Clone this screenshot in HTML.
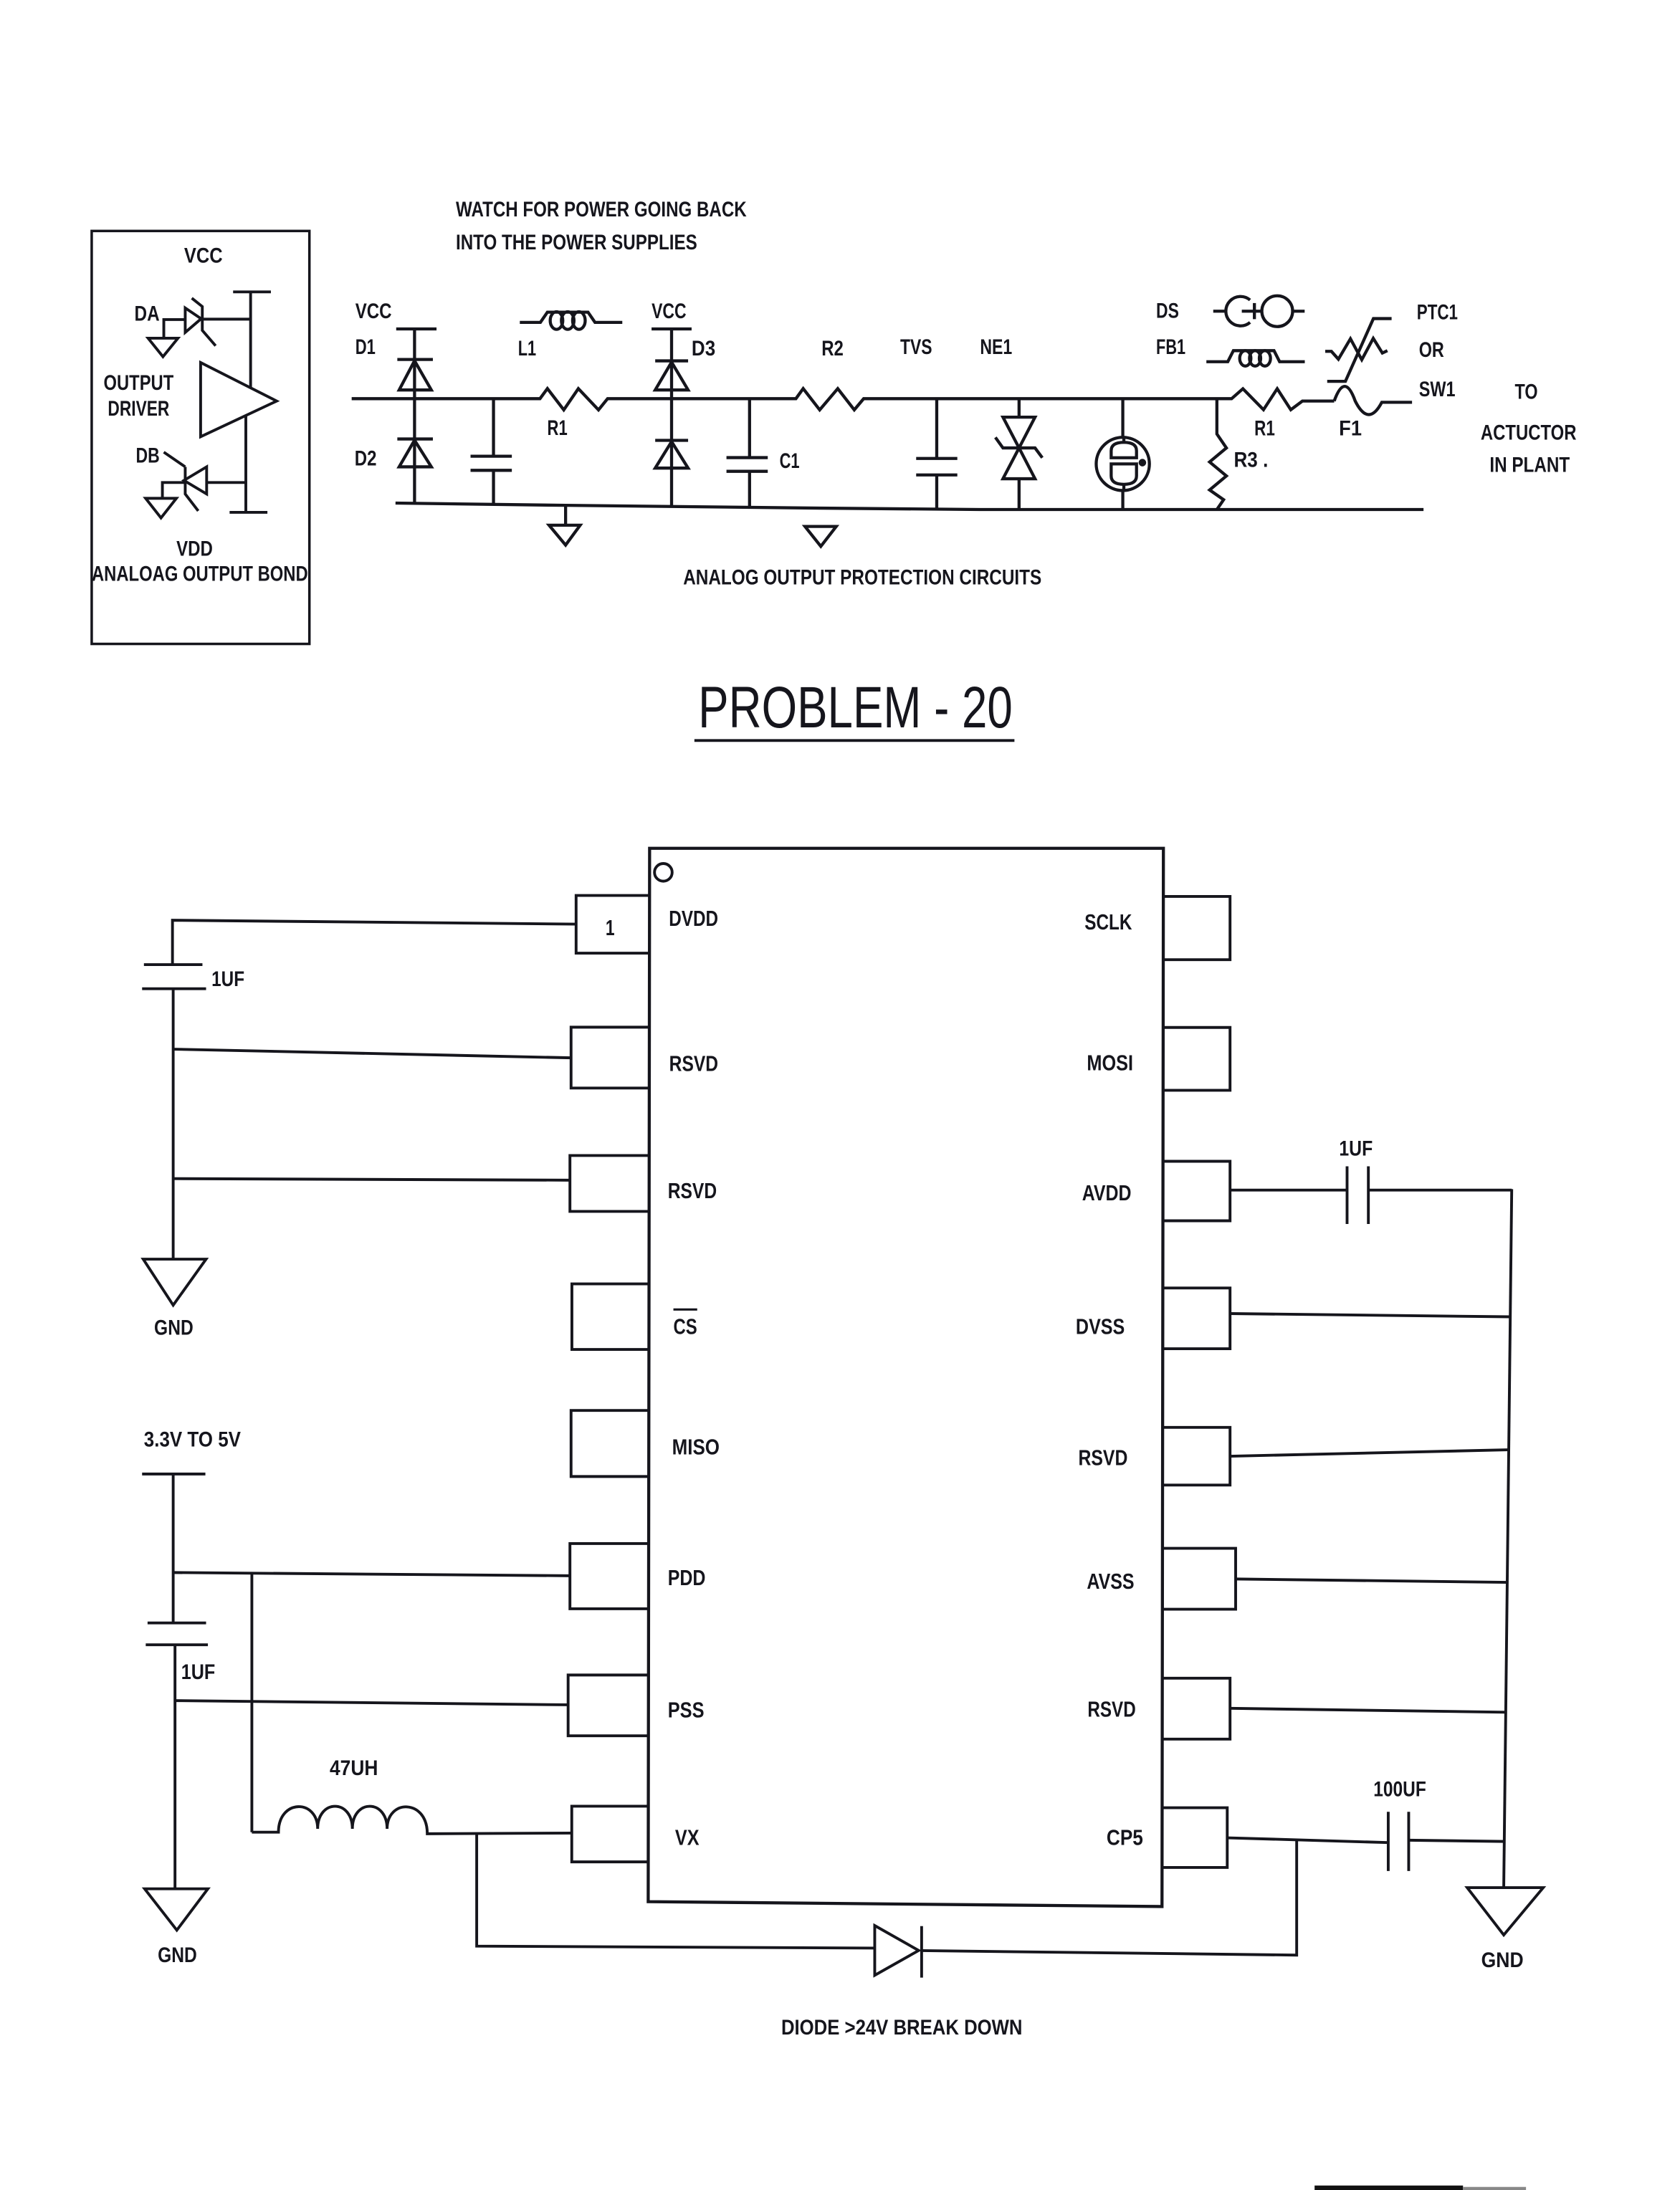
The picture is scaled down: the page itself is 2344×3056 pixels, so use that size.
<!DOCTYPE html>
<html>
<head>
<meta charset="utf-8">
<style>
  html,body{margin:0;padding:0;background:#ffffff;}
  svg{display:block;}
  text{font-family:"Liberation Sans Narrow","Liberation Sans",Arial,sans-serif;fill:#15151c;font-size:15px;font-weight:bold;}
  text.p{font-size:15.5px;}
</style>
</head>
<body>
<svg width="2344" height="3056" viewBox="0 0 1200 1564.5" preserveAspectRatio="none" xmlns="http://www.w3.org/2000/svg">
<rect x="0" y="0" width="1200" height="1564.5" fill="#ffffff"/>
<g fill="none" stroke="#15151c" stroke-width="2" stroke-linejoin="miter" stroke-linecap="butt">

<!-- ============ TOP-LEFT BOX ============ -->
<rect x="65.5" y="165" width="155.5" height="295" stroke-width="1.8"/>
<line x1="166.5" y1="208.5" x2="193.5" y2="208.5"/>
<line x1="179" y1="208.5" x2="179" y2="277"/>
<line x1="175.6" y1="296.8" x2="175.6" y2="366"/>
<line x1="164" y1="366" x2="191" y2="366"/>
<polygon points="143.3,259 197.6,286.5 143.3,312"/>
<!-- DA -->
<polyline points="117,241.6 117,228.3 132.3,228.3"/>
<polygon points="105.8,241.6 127.1,241.6 116.4,254.8"/>
<polygon points="132.3,220 143.7,227.7 132.3,237.5"/>
<polyline points="137,213 144.5,219 144.5,236 154,247"/>
<line x1="144.5" y1="228" x2="179" y2="228"/>
<!-- DB -->
<line x1="117" y1="323" x2="132.3" y2="333.5"/>
<polyline points="132.3,333.5 132.3,352.9 141.6,365"/>
<polygon points="147.6,333.5 147.6,352.9 131.4,343.2"/>
<line x1="147.6" y1="344.7" x2="175.6" y2="344.7"/>
<polyline points="131.4,344.7 116,344.7 116,356"/>
<polygon points="104,356 126,356 115,370"/>

<!-- ============ TOP CIRCUIT ============ -->
<g stroke-width="2.2">
<polyline points="251.2,284.8 385.7,284.8 391,277.6 402.7,292.8 413.1,277.6 427.5,292.8 434,284.8 568.5,284.8 573.7,277.6 585.5,292.8 598.4,277.6 610.2,292.8 616.9,284.8 879.7,284.8 887.8,277.7 902.5,292.7 912.3,277.7 922,292.7 930.3,286.5 953,286.5"/>
<path d="M953,286.5 Q960.5,265.5 968,286.5 Q977.5,305.4 987,287.4 L1008.6,287.4"/>
<polyline points="282.5,359.4 404,361 586,363 700,364 1016.8,364"/>

<!-- D1 / D2 -->
<line x1="283" y1="235" x2="311.8" y2="235"/>
<line x1="296.1" y1="235" x2="296.1" y2="359.6"/>
<line x1="283.8" y1="256.8" x2="309.2" y2="256.8"/>
<polygon points="296.1,257.7 308.1,278.6 285.1,278.6"/>
<line x1="283.8" y1="313.6" x2="309.2" y2="313.6"/>
<polygon points="296.1,314.5 308.1,333.5 285.1,333.5"/>
<!-- cap -->
<line x1="352.5" y1="284.8" x2="352.5" y2="325.9"/>
<line x1="336.1" y1="325.9" x2="365.6" y2="325.9"/>
<line x1="336.1" y1="336" x2="365.6" y2="336"/>
<line x1="352.5" y1="336" x2="352.5" y2="361"/>
<!-- ground 1 -->
<line x1="404" y1="361" x2="404" y2="375.2"/>
<polygon points="392.2,375.2 414.4,375.2 404,389.4"/>
<!-- L1 -->
<path d="M371.3,230.3 H386 L391,223 H420 L425,230.3 H444.5"/>
<ellipse cx="397.5" cy="229" rx="4.5" ry="6.3"/>
<ellipse cx="405.5" cy="229" rx="4.5" ry="6.3"/>
<ellipse cx="413.5" cy="229" rx="4.5" ry="6.3"/>
<!-- D3 column -->
<line x1="465.4" y1="235" x2="494" y2="235"/>
<line x1="479.7" y1="235" x2="479.7" y2="361.3"/>
<line x1="468" y1="257.8" x2="491.5" y2="257.8"/>
<polygon points="479.7,258.7 491.5,278.6 468,278.6"/>
<line x1="468" y1="314.6" x2="491.5" y2="314.6"/>
<polygon points="479.7,315.5 491.5,334.4 468,334.4"/>
<!-- C1 -->
<line x1="535.4" y1="284.8" x2="535.4" y2="326.9"/>
<line x1="518.9" y1="326.9" x2="548.4" y2="326.9"/>
<line x1="518.9" y1="336.7" x2="548.4" y2="336.7"/>
<line x1="535.4" y1="336.7" x2="535.4" y2="362"/>
<!-- ground 2 -->
<polygon points="575,376.1 597.3,376.1 586.3,390.3"/>
<!-- TVS cap -->
<line x1="669.1" y1="284.8" x2="669.1" y2="327.5"/>
<line x1="654.4" y1="327.5" x2="683.8" y2="327.5"/>
<line x1="654.4" y1="339.3" x2="683.8" y2="339.3"/>
<line x1="669.1" y1="339.3" x2="669.1" y2="364"/>
<!-- NE1 bidirectional -->
<line x1="727.9" y1="284.8" x2="727.9" y2="298"/>
<polygon points="716.4,298 739.3,298 727.9,320"/>
<polygon points="716.4,342 739.3,342 727.9,320"/>
<polyline points="711,312.5 716.4,320 739.3,320 744.5,327"/>
<line x1="727.9" y1="342" x2="727.9" y2="364"/>
<!-- gas tube -->
<line x1="802" y1="284.8" x2="802" y2="312.4"/>
<circle cx="802" cy="331.4" r="19"/>
<line x1="802.75" y1="312.4" x2="802.75" y2="316"/>
<path d="M793.7,327 L793.7,322 Q793.7,316 802.75,316 Q811.8,316 811.8,322 L811.8,327 Z"/>
<path d="M793.7,331.4 L811.8,331.4 L811.8,340 Q811.8,346 802.75,346 Q793.7,346 793.7,340 Z"/>
<line x1="802.75" y1="346" x2="802.75" y2="350.4"/>
<line x1="802" y1="350.4" x2="802" y2="364"/>
<circle cx="816" cy="330.5" r="1.6" fill="#15151c"/>
<!-- R3 -->
<polyline points="869.2,284.8 869.2,310 876,320 864,330 876,340 864,350 874,357 869.2,364"/>
<!-- DS symbol -->
<line x1="866.6" y1="222.3" x2="875.7" y2="222.3"/>
<path d="M892.9,214.3 A10.5,10.5 0 1 0 892.9,230.3"/>
<line x1="887" y1="222.3" x2="901" y2="222.3"/>
<line x1="896" y1="216.5" x2="896" y2="228"/>
<circle cx="912.3" cy="222.3" r="11"/>
<line x1="923.3" y1="222.3" x2="931.9" y2="222.3"/>
<!-- FB1 -->
<path d="M861.7,258.4 H877 L881,250.5 H910 L914,258.4 H932"/>
<ellipse cx="889.5" cy="256" rx="4" ry="5.5"/>
<ellipse cx="896.5" cy="256" rx="4" ry="5.5"/>
<ellipse cx="903.5" cy="256" rx="4" ry="5.5"/>
<!-- PTC1 -->
<polyline points="946.6,251 951,251 956,256.6 964.6,242 972.7,257 980.9,241.7 987.4,252.2 991,250.5"/>
<polyline points="948,272.4 961,272.4 981,227.6 994,227.6"/>
</g>

<!-- ============ TITLE UNDERLINE ============ -->
<line x1="496" y1="529" x2="724.6" y2="529" stroke-width="2"/>

<!-- ============ CHIP ============ -->
<path d="M464,606 L831,606 L830,1362 L463,1358.5 Z" stroke-width="2.2"/>
<circle cx="473.8" cy="623.2" r="6.3"/>
<!-- left pins -->
<polyline points="464,639.7 411.5,639.7 411.5,680.9 464,680.9"/>
<polyline points="464,733.8 407.9,733.8 407.9,777.3 464,777.3"/>
<polyline points="464,825.5 407.1,825.5 407.1,865.4 464,865.4"/>
<polyline points="464,917.2 408.5,917.2 408.5,964 464,964"/>
<polyline points="464,1007.6 407.9,1007.6 407.9,1054.8 464,1054.8"/>
<polyline points="464,1102.7 407.1,1102.7 407.1,1149.3 464,1149.3"/>
<polyline points="464,1196.6 405.8,1196.6 405.8,1240 464,1240"/>
<polyline points="464,1290.3 408.4,1290.3 408.4,1330.1 464,1330.1"/>
<!-- right pins -->
<polyline points="831,640.4 878.6,640.4 878.6,685.6 831,685.6"/>
<polyline points="831,734 878.6,734 878.6,778.9 831,778.9"/>
<polyline points="831,829.6 878.6,829.6 878.6,872.1 831,872.1"/>
<polyline points="831,920.1 878.6,920.1 878.6,963.5 831,963.5"/>
<polyline points="831,1019.7 878.6,1019.7 878.6,1060.9 831,1060.9"/>
<polyline points="831,1106.1 882.6,1106.1 882.6,1149.6 831,1149.6"/>
<polyline points="831,1198.9 878.6,1198.9 878.6,1242.4 831,1242.4"/>
<polyline points="831,1291.4 876.6,1291.4 876.6,1334.1 831,1334.1"/>
<!-- CS overbar -->
<line x1="481" y1="935.5" x2="498" y2="935.5" stroke-width="1.6"/>

<!-- ============ LEFT WIRING ============ -->
<polyline points="411.5,660.2 123.2,657.4 123.2,689.1"/>
<line x1="102.8" y1="689.1" x2="144.6" y2="689.1"/>
<line x1="101.5" y1="706.3" x2="147.2" y2="706.3"/>
<line x1="123.7" y1="706.3" x2="123.7" y2="899.5"/>
<line x1="123.7" y1="749.5" x2="407.9" y2="755.7"/>
<line x1="123.7" y1="842" x2="407.1" y2="843.1"/>
<polygon points="102.3,899.5 147.2,899.5 123.7,932.4"/>

<line x1="101.5" y1="1053" x2="146.7" y2="1053"/>
<line x1="123.7" y1="1053" x2="123.7" y2="1159.4"/>
<line x1="105.4" y1="1159.4" x2="147.2" y2="1159.4"/>
<line x1="104.1" y1="1175" x2="148.5" y2="1175"/>
<line x1="125" y1="1175" x2="125" y2="1349.3"/>
<line x1="123.7" y1="1123.4" x2="407.1" y2="1125.7"/>
<line x1="179.9" y1="1123.9" x2="179.9" y2="1308.9"/>
<line x1="125" y1="1214.9" x2="405.8" y2="1217.9"/>
<path d="M179.9,1308.9 H198.9 C198.9,1285 226.9,1285 226.9,1306.5 C226.9,1285 251.7,1285 251.7,1306.5 C251.7,1285 276.5,1285 276.5,1306.5 C276.5,1285 305.2,1285 305.2,1310 L408.4,1309.5"/>
<polygon points="103.3,1349.3 148.5,1349.3 126.3,1378.9"/>

<!-- VX / diode loop -->
<polyline points="340.5,1310 340.5,1390.3 624.8,1391.7"/>
<polygon points="624.8,1375.6 624.8,1411.1 656.2,1393.4"/>
<line x1="658.3" y1="1376" x2="658.3" y2="1412.8"/>
<polyline points="658.3,1393.5 926.2,1396.7 926.2,1314"/>

<!-- ============ RIGHT WIRING ============ -->
<line x1="878.6" y1="850.2" x2="962.2" y2="850.2"/>
<line x1="962.2" y1="833.2" x2="962.2" y2="874.4"/>
<line x1="977.4" y1="833.2" x2="977.4" y2="874.4"/>
<line x1="977.4" y1="850.2" x2="1079.8" y2="850.2"/>
<line x1="1079.8" y1="849.5" x2="1074.1" y2="1348.5"/>
<line x1="878.6" y1="938.4" x2="1078.8" y2="940.7"/>
<line x1="878.6" y1="1040.3" x2="1077.7" y2="1035.7"/>
<line x1="882.6" y1="1128" x2="1076.7" y2="1130.4"/>
<line x1="878.6" y1="1220.4" x2="1075.6" y2="1223.2"/>
<line x1="876.6" y1="1312.9" x2="991.6" y2="1316.3"/>
<line x1="991.6" y1="1294.3" x2="991.6" y2="1336.6"/>
<line x1="1006.2" y1="1294.3" x2="1006.2" y2="1336.6"/>
<line x1="1006.2" y1="1314.6" x2="1074.6" y2="1315.5"/>
<polygon points="1048,1348.5 1102.3,1348.5 1074.1,1382.3"/>
</g>

<!-- bottom-right scan edge -->
<rect x="939" y="1561.3" width="106" height="3.2" fill="#111"/>
<rect x="1045" y="1562.3" width="45" height="2.2" fill="#888"/>

<!-- ============ TEXT ============ -->
<!-- top-left box -->
<text x="131.5" y="187.5" textLength="27.5" lengthAdjust="spacingAndGlyphs">VCC</text>
<text x="96" y="229" textLength="18" lengthAdjust="spacingAndGlyphs">DA</text>
<text x="74" y="278.5" textLength="50" lengthAdjust="spacingAndGlyphs">OUTPUT</text>
<text x="77" y="297" textLength="44" lengthAdjust="spacingAndGlyphs">DRIVER</text>
<text x="97" y="330.5" textLength="17" lengthAdjust="spacingAndGlyphs">DB</text>
<text x="126" y="397" textLength="26" lengthAdjust="spacingAndGlyphs">VDD</text>
<text x="65.5" y="415" textLength="154.5" lengthAdjust="spacingAndGlyphs">ANALOAG OUTPUT BOND</text>

<!-- top circuit -->
<text x="325.6" y="154.5" textLength="207.7" lengthAdjust="spacingAndGlyphs">WATCH FOR POWER GOING BACK</text>
<text x="325.6" y="178.2" textLength="172.4" lengthAdjust="spacingAndGlyphs">INTO THE POWER SUPPLIES</text>
<text x="253.8" y="227.4" textLength="26" lengthAdjust="spacingAndGlyphs">VCC</text>
<text x="253.8" y="253" textLength="14.4" lengthAdjust="spacingAndGlyphs">D1</text>
<text x="253.3" y="332.6" textLength="15.7" lengthAdjust="spacingAndGlyphs">D2</text>
<text x="370" y="254" textLength="13" lengthAdjust="spacingAndGlyphs">L1</text>
<text x="465.4" y="227.4" textLength="24.8" lengthAdjust="spacingAndGlyphs">VCC</text>
<text x="494" y="254" textLength="17" lengthAdjust="spacingAndGlyphs">D3</text>
<text x="586.8" y="254" textLength="15.7" lengthAdjust="spacingAndGlyphs">R2</text>
<text x="390.9" y="310.8" textLength="14.4" lengthAdjust="spacingAndGlyphs">R1</text>
<text x="556.8" y="334.4" textLength="14.3" lengthAdjust="spacingAndGlyphs">C1</text>
<text x="643" y="253" textLength="22.8" lengthAdjust="spacingAndGlyphs">TVS</text>
<text x="700" y="253" textLength="23" lengthAdjust="spacingAndGlyphs">NE1</text>
<text x="825.8" y="227" textLength="16.3" lengthAdjust="spacingAndGlyphs">DS</text>
<text x="825.8" y="253" textLength="21" lengthAdjust="spacingAndGlyphs">FB1</text>
<text x="1012" y="228" textLength="29.3" lengthAdjust="spacingAndGlyphs">PTC1</text>
<text x="1013.5" y="255" textLength="18" lengthAdjust="spacingAndGlyphs">OR</text>
<text x="1013.5" y="283" textLength="26" lengthAdjust="spacingAndGlyphs">SW1</text>
<text x="1082" y="285" textLength="16.4" lengthAdjust="spacingAndGlyphs">TO</text>
<text x="1057.6" y="314" textLength="68.4" lengthAdjust="spacingAndGlyphs">ACTUCTOR</text>
<text x="1064" y="337" textLength="57.3" lengthAdjust="spacingAndGlyphs">IN PLANT</text>
<text x="896" y="311" textLength="14.7" lengthAdjust="spacingAndGlyphs">R1</text>
<text x="956.4" y="311" textLength="16.3" lengthAdjust="spacingAndGlyphs">F1</text>
<text x="881.3" y="333.5" textLength="24.5" lengthAdjust="spacingAndGlyphs">R3 .</text>
<text x="488" y="417.5" textLength="256" lengthAdjust="spacingAndGlyphs">ANALOG OUTPUT PROTECTION CIRCUITS</text>

<!-- title -->
<text x="498.7" y="519.7" textLength="224.6" lengthAdjust="spacingAndGlyphs" style="font-size:42px;font-weight:normal">PROBLEM - 20</text>

<!-- chip labels left -->
<text class="p" x="432.5" y="668" textLength="6.5" lengthAdjust="spacingAndGlyphs">1</text>
<text class="p" x="477.8" y="661.5" textLength="35.2" lengthAdjust="spacingAndGlyphs">DVDD</text>
<text class="p" x="478" y="765" textLength="35" lengthAdjust="spacingAndGlyphs">RSVD</text>
<text class="p" x="477" y="856" textLength="35" lengthAdjust="spacingAndGlyphs">RSVD</text>
<text class="p" x="481" y="953" textLength="17" lengthAdjust="spacingAndGlyphs">CS</text>
<text class="p" x="480" y="1039" textLength="34" lengthAdjust="spacingAndGlyphs">MISO</text>
<text class="p" x="477" y="1132.5" textLength="27" lengthAdjust="spacingAndGlyphs">PDD</text>
<text class="p" x="477" y="1227" textLength="26" lengthAdjust="spacingAndGlyphs">PSS</text>
<text class="p" x="482.2" y="1318" textLength="17.2" lengthAdjust="spacingAndGlyphs">VX</text>
<!-- chip labels right -->
<text class="p" x="774.7" y="664.1" textLength="33.9" lengthAdjust="spacingAndGlyphs">SCLK</text>
<text class="p" x="776.3" y="764.7" textLength="33.1" lengthAdjust="spacingAndGlyphs">MOSI</text>
<text class="p" x="772.9" y="857.5" textLength="35.2" lengthAdjust="spacingAndGlyphs">AVDD</text>
<text class="p" x="768.4" y="953" textLength="35" lengthAdjust="spacingAndGlyphs">DVSS</text>
<text class="p" x="770.2" y="1046.7" textLength="35.3" lengthAdjust="spacingAndGlyphs">RSVD</text>
<text class="p" x="776.3" y="1134.9" textLength="33.9" lengthAdjust="spacingAndGlyphs">AVSS</text>
<text class="p" x="776.8" y="1226.4" textLength="34.5" lengthAdjust="spacingAndGlyphs">RSVD</text>
<text class="p" x="790.4" y="1318" textLength="26.1" lengthAdjust="spacingAndGlyphs">CP5</text>

<!-- left wiring labels -->
<text x="151.1" y="704.4" textLength="23.5" lengthAdjust="spacingAndGlyphs">1UF</text>
<text x="110.1" y="953.6" textLength="28" lengthAdjust="spacingAndGlyphs">GND</text>
<text x="102.8" y="1033.3" textLength="69.2" lengthAdjust="spacingAndGlyphs">3.3V TO 5V</text>
<text x="129.4" y="1199.6" textLength="24.3" lengthAdjust="spacingAndGlyphs">1UF</text>
<text x="235.5" y="1268.1" textLength="34.5" lengthAdjust="spacingAndGlyphs">47UH</text>
<text x="112.7" y="1401.6" textLength="28" lengthAdjust="spacingAndGlyphs">GND</text>

<!-- right wiring labels -->
<text x="956.5" y="825.5" textLength="24" lengthAdjust="spacingAndGlyphs">1UF</text>
<text x="981" y="1283.3" textLength="37.7" lengthAdjust="spacingAndGlyphs">100UF</text>
<text x="1058" y="1405.2" textLength="30.2" lengthAdjust="spacingAndGlyphs">GND</text>
<text x="558" y="1453.5" textLength="172.3" lengthAdjust="spacingAndGlyphs">DIODE &gt;24V BREAK DOWN</text>
</svg>
</body>
</html>
